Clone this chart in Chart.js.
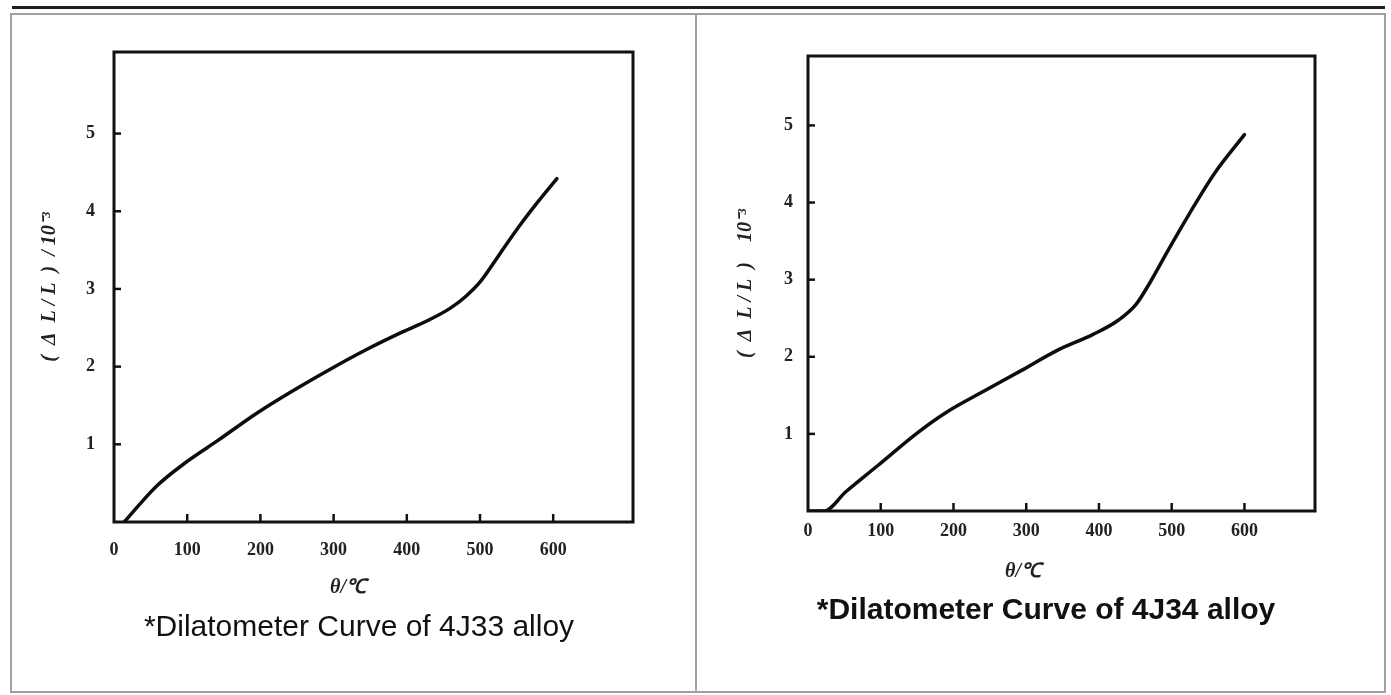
<!DOCTYPE html>
<html lang="en">
<head>
<meta charset="utf-8">
<title>Dilatometer Curves 4J33 / 4J34</title>
<script src="https://cdn.jsdelivr.net/npm/chart.js@4.4.1/dist/chart.umd.min.js"></script>
<style>
  html, body { margin: 0; padding: 0; background: #fff; }
  body { width: 1391px; height: 695px; position: relative; overflow: hidden; font-family: "Liberation Sans", Arial, sans-serif; }
  .linhaTopo { position: absolute; left: 12px; top: 6px; width: 1373px; height: 3px; background: #1e1e1e; }
  .celula { position: absolute; top: 13px; height: 680px; border: 2px solid #a0a0a0; box-sizing: border-box; }
  canvas { position: absolute; top: 13px; }
  .eixoX { position: absolute; transform: translate(-50%, -50%); font: italic bold 20px "Liberation Serif", serif; color: #222; white-space: nowrap; }
  .legenda { position: absolute; transform: translateX(-50%); font-size: 30px; line-height: 30px; color: #111; white-space: nowrap; }
</style>
</head>
<body>
<div class="linhaTopo"></div>
<div class="celula" style="left:10px; width:687px;"></div>
<div class="celula" style="left:695px; width:691px;"></div>

<canvas id="grafico33" width="685" height="600" style="left:10px;"></canvas>
<canvas id="grafico34" width="688" height="600" style="left:697px;"></canvas>

<div class="eixoX" style="left:348px; top:585px;">θ/℃</div>
<div class="eixoX" style="left:1023px; top:569px;">θ/℃</div>

<div class="legenda" style="left:359px; top:611px;">*Dilatometer Curve of 4J33 alloy</div>
<div class="legenda" style="left:1046px; top:594px; font-weight:bold;">*Dilatometer Curve of 4J34 alloy</div>

<script>
// --- Dados (temperatura em °C, ΔL/L em 10^-3) ---
const temperaturas33 = [14, 58, 100, 142, 195, 241, 296, 345, 395, 428, 459, 480, 501, 527, 553, 579, 605];
const dilatacao33 = [0, 0.46, 0.78, 1.05, 1.40, 1.67, 1.97, 2.22, 2.45, 2.59, 2.75, 2.90, 3.10, 3.45, 3.80, 4.12, 4.42];

const temperaturas34 = [0, 22, 52, 96, 150, 192, 239, 293, 342, 392, 426, 451, 470, 495, 524, 559, 600];
const dilatacao34 = [0, 0, 0.25, 0.59, 1.01, 1.29, 1.54, 1.82, 2.08, 2.29, 2.47, 2.68, 2.96, 3.38, 3.85, 4.38, 4.88];

const ticksX = [0, 100, 200, 300, 400, 500, 600];
const ticksY = [1, 2, 3, 4, 5];

const fonteNumeros = { family: "Liberation Serif", size: 18, weight: "bold" };

// --- Moldura do gráfico + marcas dos ticks para dentro ---
const moldura = {
  id: "moldura",
  afterDatasetsDraw(chart) {
    const { ctx, chartArea: a, scales } = chart;
    ctx.save();
    ctx.strokeStyle = "#111";
    ctx.lineWidth = 2.5;
    scales.x.ticks.forEach(t => {
      if (t.value === 0) return;
      const px = scales.x.getPixelForValue(t.value);
      ctx.beginPath();
      ctx.moveTo(px, a.bottom);
      ctx.lineTo(px, a.bottom - 8);
      ctx.stroke();
    });
    scales.y.ticks.forEach(t => {
      const py = scales.y.getPixelForValue(t.value);
      ctx.beginPath();
      ctx.moveTo(a.left, py);
      ctx.lineTo(a.left + 7, py);
      ctx.stroke();
    });
    ctx.lineWidth = 3;
    ctx.strokeRect(a.left, a.top, a.right - a.left, a.bottom - a.top);
    ctx.restore();
  }
};

// --- Monta um gráfico de dilatação ---
function criarGrafico(id, temperaturas, dilatacao, cfg) {
  const ctx = document.getElementById(id).getContext("2d");
  return new Chart(ctx, {
    type: "line",
    data: {
      datasets: [{
        data: temperaturas.map((t, i) => ({ x: t, y: dilatacao[i] })),
        borderColor: "#0d0d0d",
        borderWidth: 3.5,
        borderCapStyle: "round",
        pointRadius: 0,
        cubicInterpolationMode: "monotone"
      }]
    },
    options: {
      responsive: false,
      animation: false,
      layout: { padding: { left: 0, top: cfg.topo, right: cfg.direita, bottom: 0 } },
      plugins: { legend: { display: false }, tooltip: { enabled: false } },
      scales: {
        x: {
          type: "linear",
          min: 0,
          max: cfg.maxX,
          grid: { display: false, drawTicks: false },
          border: { display: false },
          ticks: { font: fonteNumeros, color: "#222", padding: cfg.padX, maxRotation: 0 },
          afterBuildTicks: s => { s.ticks = ticksX.map(v => ({ value: v })); },
          afterFit: s => { s.height = cfg.alturaX; }
        },
        y: {
          type: "linear",
          min: 0,
          max: cfg.maxY,
          grid: { display: false, drawTicks: false },
          border: { display: false },
          ticks: { font: fonteNumeros, color: "#222", padding: cfg.padY },
          afterBuildTicks: s => { s.ticks = ticksY.map(v => ({ value: v })); },
          afterFit: s => { s.width = cfg.larguraY; },
          title: {
            display: true,
            text: cfg.tituloY,
            color: "#222",
            font: { family: "Liberation Serif", size: 20, weight: "bold", style: "italic" },
            padding: { top: cfg.padTitulo, bottom: 0 }
          }
        }
      }
    },
    plugins: [moldura]
  });
}

// --- Inicialização ---
criarGrafico("grafico33", temperaturas33, dilatacao33, {
  topo: 39, direita: 62, larguraY: 104, alturaX: 91,
  maxX: 709, maxY: 6.05, padX: 18, padY: 19, padTitulo: 28,
  tituloY: "(  Δ  L / L  )  / 10⁻³"
});

criarGrafico("grafico34", temperaturas34, dilatacao34, {
  topo: 43, direita: 70, larguraY: 111, alturaX: 102,
  maxX: 697, maxY: 5.9, padX: 10, padY: 15, padTitulo: 37,
  tituloY: "(  Δ  L / L  )    10⁻³"
});
</script>
</body>
</html>
